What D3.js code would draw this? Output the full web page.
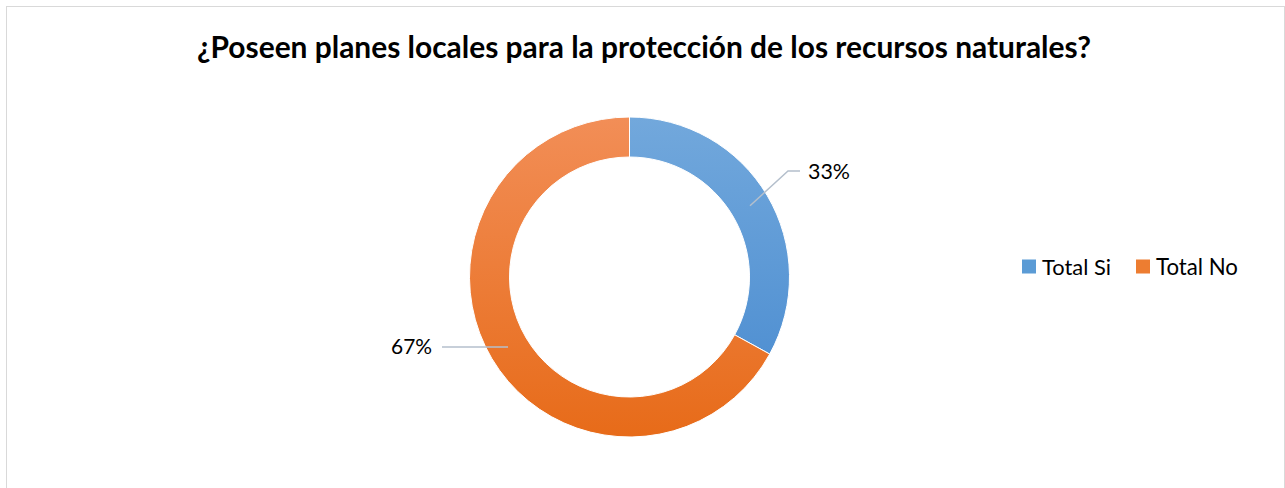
<!DOCTYPE html>
<html>
<head>
<meta charset="utf-8">
<script src="https://cdn.jsdelivr.net/npm/d3@7.9.0/dist/d3.min.js"></script>
<style>
  html, body { margin: 0; padding: 0; background: #fff; }
  svg { display: block; }
  text { font-family: Lato, "Open Sans", sans-serif; fill: #000; }
</style>
</head>
<body>
<svg id="chart" width="1285" height="488"></svg>
<script>
const title = '¿Poseen planes locales para la protección de los recursos naturales?';
const categories = ['Total Si', 'Total No'];
const values = [33, 67];
const labels = ['33%', '67%'];
const colorTop = ['#72a8dc', '#f28e57'];
const colorBottom = ['#4689cf', '#e76b19'];

const width = 1285, height = 488;
const cx = 629.5, cy = 277, outerR = 160, innerR = 120;

const svg = d3.select('#chart');

// frame
svg.append('rect')
  .attr('x', 6.5).attr('y', 6.5)
  .attr('width', width - 7).attr('height', height + 10)
  .attr('fill', '#fff')
  .attr('stroke', '#d9d9d9');

// fit a text element to a wanted width by scaling its font size
function fitWidth(sel, target) {
  const w = sel.node().getComputedTextLength();
  const fs = parseFloat(sel.attr('font-size'));
  sel.attr('font-size', fs * target / w);
}

const t = svg.append('text')
  .attr('x', 644).attr('y', 58)
  .attr('text-anchor', 'middle')
  .attr('font-weight', 'bold')
  .attr('font-size', 28)
  .text(title);
fitWidth(t, 894);

// gradients (in the donut group's local space)
const defs = svg.append('defs');
categories.forEach((c, i) => {
  const grad = defs.append('linearGradient')
    .attr('id', 'grad' + i)
    .attr('gradientUnits', 'userSpaceOnUse')
    .attr('x1', 0).attr('x2', 0)
    .attr('y1', -outerR).attr('y2', outerR);
  grad.append('stop').attr('offset', 0).attr('stop-color', colorTop[i]);
  grad.append('stop').attr('offset', 1).attr('stop-color', colorBottom[i]);
});

const pie = d3.pie().sort(null).value(d => d);
const arc = d3.arc().innerRadius(innerR).outerRadius(outerR);
const arcData = pie(values);

const g = svg.append('g').attr('transform', `translate(${cx},${cy})`);
g.selectAll('path')
  .data(arcData)
  .join('path')
  .attr('d', arc)
  .attr('fill', (d, i) => `url(#grad${i})`)
  .attr('stroke', '#fff')
  .attr('stroke-width', 1);

// leader lines and labels
const lineColor = '#b4bfcc';
arcData.forEach((d, i) => {
  if (i === 0) {
    const mid = (d.startAngle + d.endAngle) / 2;
    const r = 140;
    const start = [Math.sin(mid) * r, -Math.cos(mid) * r];
    g.append('polyline')
      .attr('points', [start, [158.5, -106], [170.5, -106]].map(p => p.join(',')).join(' '))
      .attr('fill', 'none').attr('stroke', lineColor).attr('stroke-width', 1.5);
    const lt = g.append('text')
      .attr('x', 178.5).attr('y', -106)
      .attr('dy', '0.35em')
      .attr('font-size', 20)
      .text(labels[i]);
    fitWidth(lt, 42);
  } else {
    const y = 70;
    g.append('line')
      .attr('x1', -187.5).attr('x2', -121.5)
      .attr('y1', y).attr('y2', y)
      .attr('stroke', lineColor).attr('stroke-width', 1.5);
    const lt = g.append('text')
      .attr('x', -197.5).attr('y', y)
      .attr('dy', '0.35em')
      .attr('text-anchor', 'end')
      .attr('font-size', 20)
      .text(labels[i]);
    fitWidth(lt, 41);
  }
});

// legend
const legendX = [1022, 1136];
const legendW = [69, 82];
const legendFill = ['#5b9bd5', '#ed7d31'];
const legend = svg.append('g');
categories.forEach((c, i) => {
  legend.append('rect')
    .attr('x', legendX[i]).attr('y', 259.5)
    .attr('width', 14).attr('height', 14)
    .attr('fill', legendFill[i]);
  const lt = legend.append('text')
    .attr('x', legendX[i] + 20).attr('y', 267)
    .attr('dy', '0.35em')
    .attr('font-size', 21)
    .text(c);
  fitWidth(lt, legendW[i]);
});
</script>
</body>
</html>
